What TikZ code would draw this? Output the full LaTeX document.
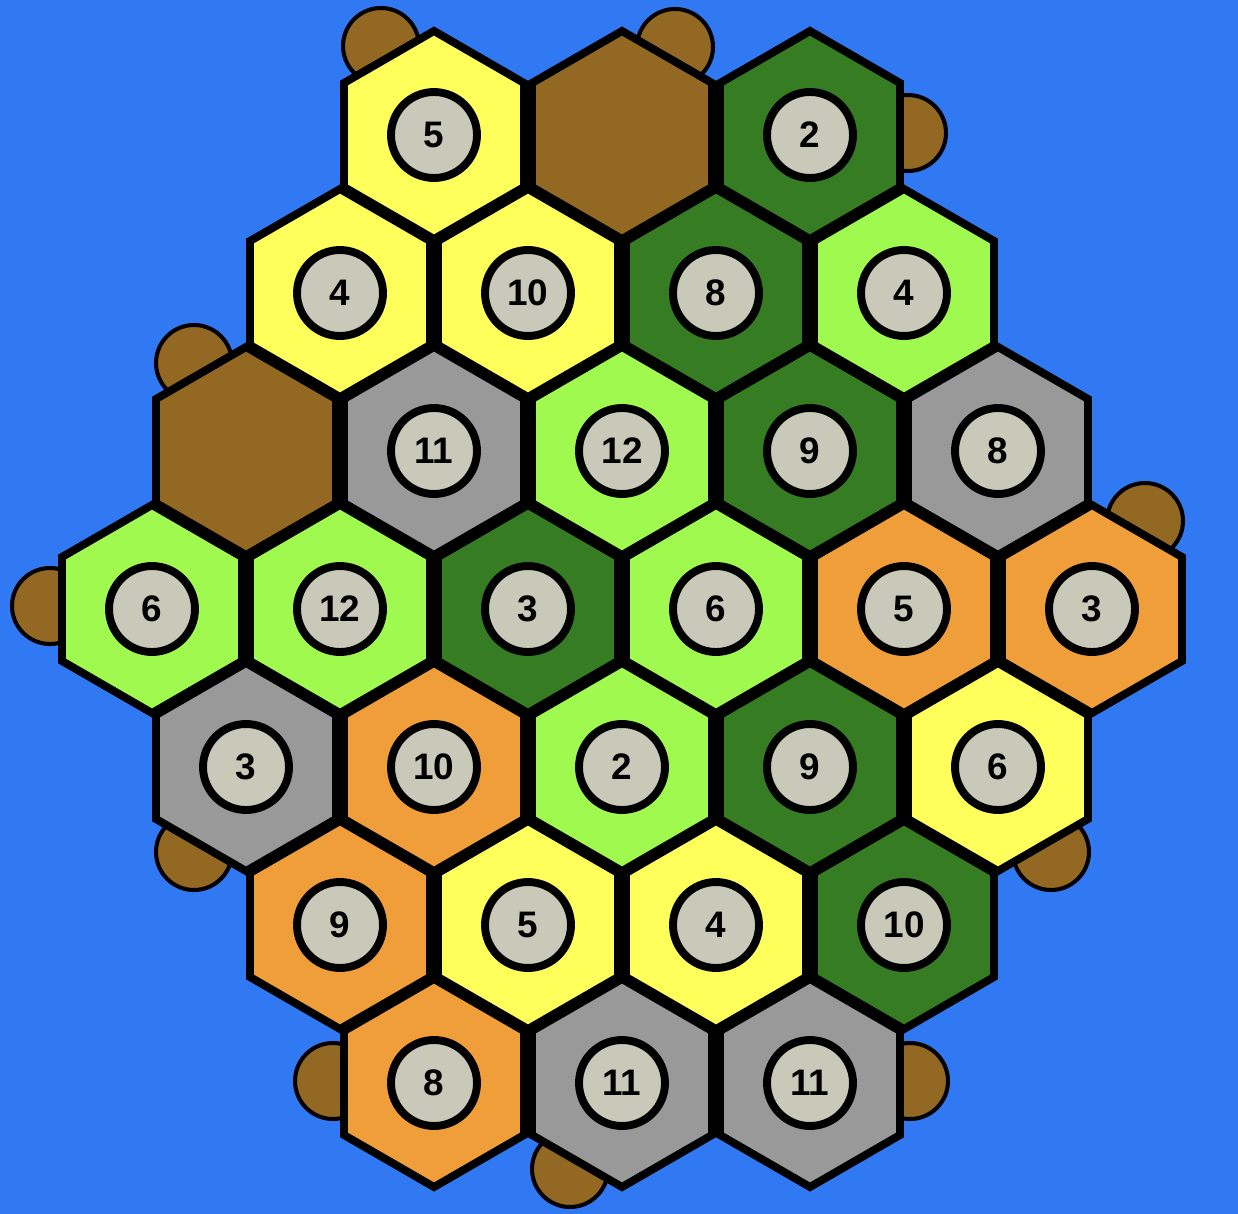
\documentclass[tikz,border=0pt]{standalone}
\usepackage{fontspec}
\setmainfont{Liberation Sans}
\usepackage{tikz}
\usetikzlibrary{positioning}
\definecolor{SeaBlue}{HTML}{3079F2}
\definecolor{FieldYellow}{HTML}{FFFF5C}
\definecolor{HillBrown}{HTML}{926823}
\definecolor{ForestGreen}{HTML}{357C23}
\definecolor{PastureGreen}{HTML}{A0F94F}
\definecolor{MountainGray}{HTML}{999999}
\definecolor{ClayOrange}{HTML}{F09E3A}
\definecolor{TokenGray}{HTML}{C8C9B8}

\begin{document}
\begin{tikzpicture}[
    x=0.02cm, y=-0.02cm,
    tile/.style={
      draw=black,
      fill=#1,
      line width=4.5pt,
      line join=miter
    },
    token/.style={
      circle,
      draw=black,
      fill=TokenGray,
      line width=4.5pt,
      minimum size=1.72cm,
      inner sep=0pt,
      font=\fontsize{21}{24}\selectfont\bfseries
    },
    port/.style={
      draw=black,
      fill=HillBrown,
      line width=2.3pt
    }
  ]

  % Sea
  \path[use as bounding box, fill=SeaBlue] (0,0) rectangle (1238,1214);

  % Harbours (behind the tiles)
  \foreach \x/\y [count=\i] in {381/46, 675/47, 908/133, 194/363, 1145/521,
                                50/606, 194/852, 1051/852, 333/1081,
                                910/1081, 570/1169}
    \draw[port] (\x,\y) circle[radius=0.76cm];

  % Land tiles
  \foreach \x/\y/\c in {
      434/135/FieldYellow, 622/135/HillBrown, 810/135/ForestGreen,
      340/293/FieldYellow, 528/293/FieldYellow, 716/293/ForestGreen, 904/293/PastureGreen,
      246/451/HillBrown, 434/451/MountainGray, 622/451/PastureGreen, 810/451/ForestGreen, 998/451/MountainGray,
      152/609/PastureGreen, 340/609/PastureGreen, 528/609/ForestGreen, 716/609/PastureGreen, 904/609/ClayOrange, 1092/609/ClayOrange,
      246/767/MountainGray, 434/767/ClayOrange, 622/767/PastureGreen, 810/767/ForestGreen, 998/767/FieldYellow,
      340/925/ClayOrange, 528/925/FieldYellow, 716/925/FieldYellow, 904/925/ForestGreen,
      434/1083/ClayOrange, 622/1083/MountainGray, 810/1083/MountainGray}
    \draw[tile=\c] (\x,\y) +(0,-104) -- +(90,-52) -- +(90,52) -- +(0,104)
                   -- +(-90,52) -- +(-90,-52) -- cycle;

  % Number tokens
  \foreach \x/\y/\n [count=\i] in {
      434/135/5, 810/135/2,
      340/293/4, 528/293/10, 716/293/8, 904/293/4,
      434/451/11, 622/451/12, 810/451/9, 998/451/8,
      152/609/6, 340/609/12, 528/609/3, 716/609/6, 904/609/5, 1092/609/3,
      246/767/3, 434/767/10, 622/767/2, 810/767/9, 998/767/6,
      340/925/9, 528/925/5, 716/925/4, 904/925/10,
      434/1083/8, 622/1083/11, 810/1083/11}
    \node[token] (tok-\i) at (\x,\y) {\n};

\end{tikzpicture}
\end{document}
